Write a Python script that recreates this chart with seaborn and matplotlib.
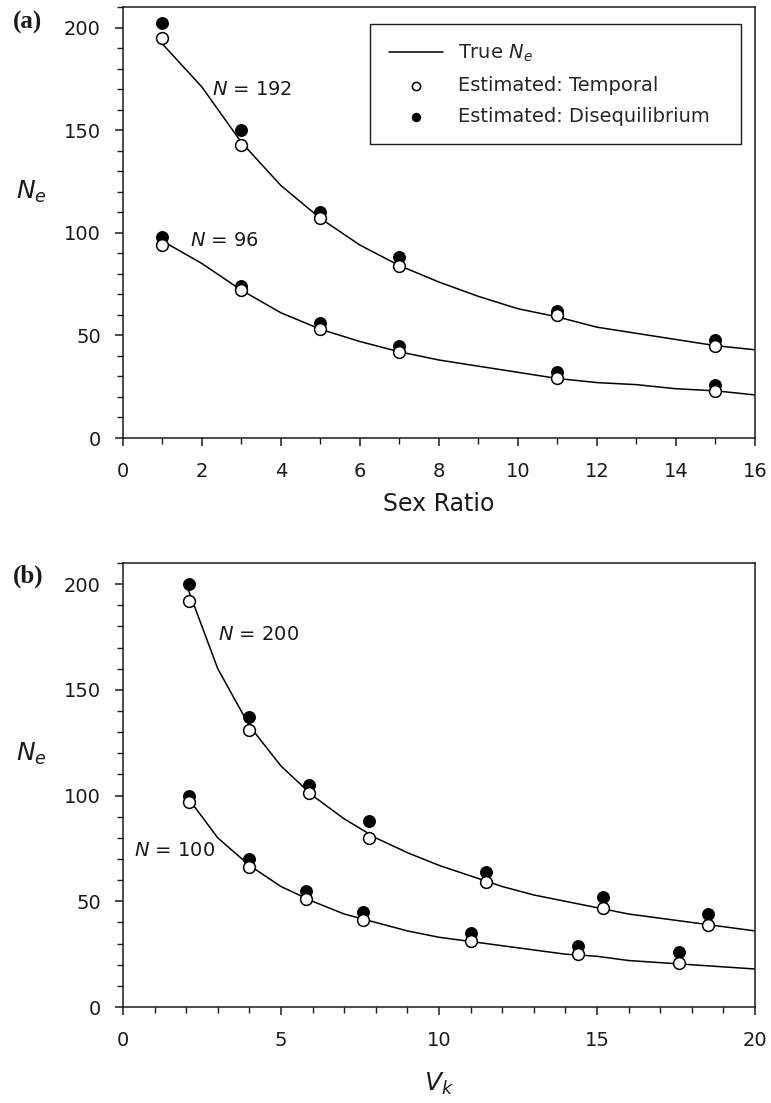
import matplotlib
matplotlib.use("Agg")
import matplotlib.pyplot as plt
from matplotlib.ticker import MultipleLocator
import seaborn as sns
import pandas as pd

# ---------------- data ----------------
# Panel (a): sex ratio
sex_ratio_line = [1, 2, 3, 4, 5, 6, 7, 8, 9, 10, 11, 12, 13, 14, 15, 16]
true_ne_192 = [192, 171, 144, 123, 107, 94, 84, 76, 69, 63, 59, 54, 51, 48, 45, 43]
true_ne_96 = [96, 85, 72, 61, 53, 47, 42, 38, 35, 32, 29, 27, 26, 24, 23, 21]
sex_ratio_pts = [1, 3, 5, 7, 11, 15]
temporal_192 = [195, 143, 107, 84, 60, 45]
diseq_192 = [202, 150, 110, 88, 62, 48]
temporal_96 = [94, 72, 53, 42, 29, 23]
diseq_96 = [98, 74, 56, 45, 32, 26]

# Panel (b): variance in family size V_k
vk_line = [2, 3, 4, 5, 6, 7, 8, 9, 10, 11, 12, 13, 14, 15, 16, 17, 18, 19, 20]
true_ne_200 = [200, 160, 133, 114, 100, 89, 80, 73, 67, 62, 57, 53, 50, 47, 44, 42, 40, 38, 36]
true_ne_100 = [100, 80, 67, 57, 50, 44, 40, 36, 33, 31, 29, 27, 25, 24, 22, 21, 20, 19, 18]
vk_pts_200 = [2.1, 4.0, 5.9, 7.8, 11.5, 15.2, 18.5]
temporal_200 = [192, 131, 101, 80, 59, 47, 39]
diseq_200 = [200, 137, 105, 88, 64, 52, 44]
vk_pts_100 = [2.1, 4.0, 5.8, 7.6, 11.0, 14.4, 17.6]
temporal_100 = [97, 66, 51, 41, 31, 25, 21]
diseq_100 = [100, 70, 55, 45, 35, 29, 26]

# ---------------- style ----------------
sns.set_theme(style="ticks")
plt.rcParams["font.family"] = ["DejaVu Sans"]
plt.rcParams["mathtext.fontset"] = "dejavusans"
plt.rcParams["axes.linewidth"] = 1.1
plt.rcParams["axes.edgecolor"] = "#1a1a1a"

TICK_FS = 14
LINE_W = 1.1
MS = 72
INK = "#1a1a1a"

fig = plt.figure(figsize=(7.71, 11.03), dpi=100)
ax_a = fig.add_axes([0.1595, 0.6029, 0.8197, 0.3907])
ax_b = fig.add_axes([0.1595, 0.0870, 0.8197, 0.4026])


def draw_panel(ax, xl, lines, pts):
    handles = {}
    for y in lines:
        df = pd.DataFrame({"x": xl, "y": y})
        sns.lineplot(data=df, x="x", y="y", ax=ax, color="black",
                     linewidth=LINE_W, estimator=None, sort=False, zorder=2)
    handles["line"] = ax.lines[0]
    for xs, temp, dis in pts:
        df = pd.DataFrame({"x": xs, "temp": temp, "dis": dis})
        sns.scatterplot(data=df, x="x", y="dis", ax=ax, color="black",
                        s=MS, edgecolor="black", linewidth=0.8, zorder=3)
        sns.scatterplot(data=df, x="x", y="temp", ax=ax, color="white",
                        s=MS, edgecolor="black", linewidth=1.1, zorder=4)
    handles["dis"] = ax.collections[0]
    handles["temp"] = ax.collections[1]
    return handles


def style_axes(ax, xmax, xmajor, xminor):
    ax.set_xlim(0, xmax)
    ax.set_ylim(0, 210)
    ax.xaxis.set_major_locator(MultipleLocator(xmajor))
    ax.xaxis.set_minor_locator(MultipleLocator(xminor))
    ax.yaxis.set_major_locator(MultipleLocator(50))
    ax.yaxis.set_minor_locator(MultipleLocator(10))
    ax.tick_params(which="major", direction="out", length=6, width=1.1,
                   labelsize=TICK_FS, colors=INK)
    ax.tick_params(which="minor", direction="out", length=4, width=1.0,
                   colors=INK)
    ax.tick_params(axis="x", which="major", pad=11)
    ax.tick_params(axis="y", which="major", pad=10)
    for s in ax.spines.values():
        s.set_visible(True)
        s.set_linewidth(1.1)
    ax.set_xlabel("")
    ax.set_ylabel("")


# Panel (a)
h = draw_panel(ax_a, sex_ratio_line, [true_ne_192, true_ne_96],
               [(sex_ratio_pts, temporal_192, diseq_192),
                (sex_ratio_pts, temporal_96, diseq_96)])
style_axes(ax_a, 16, 2, 1)
ax_a.set_xlabel("Sex Ratio", fontsize=17, labelpad=8, color=INK)
ax_a.text(2.25, 170, r"$N$ = 192", fontsize=TICK_FS, va="center", ha="left", color=INK)
ax_a.text(1.7, 96, r"$N$ = 96", fontsize=TICK_FS, va="center", ha="left", color=INK)

leg = ax_a.legend([h["line"], h["temp"], h["dis"]],
                  [r"True $N_e$", "Estimated: Temporal", "Estimated: Disequilibrium"],
                  loc="upper left", bbox_to_anchor=(0.391, 0.961, 0.587, 0.0),
                  mode="expand", borderaxespad=0, fontsize=14, frameon=True,
                  fancybox=False, edgecolor=INK, framealpha=1,
                  handlelength=2.8, handletextpad=0.75, labelspacing=0.62,
                  borderpad=0.95, markerscale=0.7)
leg.get_frame().set_linewidth(1.0)

# Panel (b)
draw_panel(ax_b, vk_line, [true_ne_200, true_ne_100],
           [(vk_pts_200, temporal_200, diseq_200),
            (vk_pts_100, temporal_100, diseq_100)])
style_axes(ax_b, 20, 5, 1)
ax_b.set_xlabel(r"$V_k$", fontsize=18, labelpad=15, color=INK)
ax_b.text(3.0, 176, r"$N$ = 200", fontsize=TICK_FS, va="center", ha="left", color=INK)
ax_b.text(0.35, 74, r"$N$ = 100", fontsize=TICK_FS, va="center", ha="left", color=INK)

# y labels (horizontal N_e) and panel letters
for ax in (ax_a, ax_b):
    ax.text(-0.1456, 0.57, r"$N_e$", transform=ax.transAxes, fontsize=18,
            ha="center", va="center", color=INK)
fig.text(13 / 771, 1 - 22 / 1103, "(a)", fontsize=18, fontweight="bold",
         family="Liberation Serif", ha="left", va="center", color=INK)
fig.text(13 / 771, 1 - 576 / 1103, "(b)", fontsize=18, fontweight="bold",
         family="Liberation Serif", ha="left", va="center", color=INK)

fig.savefig("out.png", dpi=100)
